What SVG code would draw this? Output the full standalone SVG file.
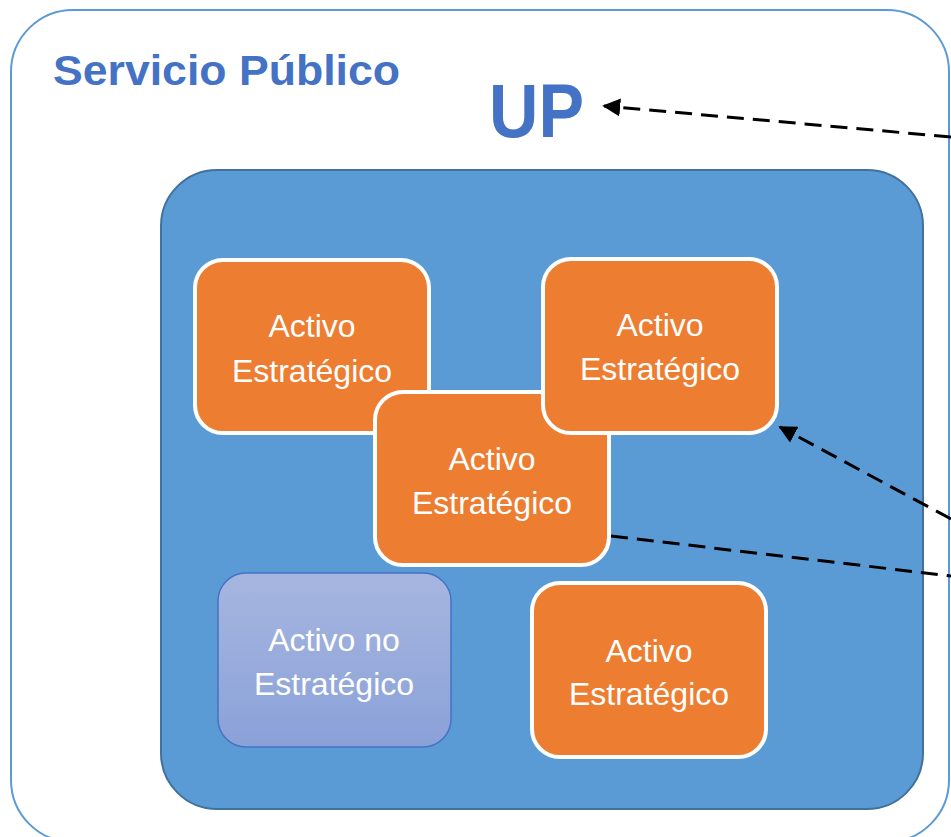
<svg xmlns="http://www.w3.org/2000/svg" width="951" height="837" viewBox="0 0 951 837">
<style>
.lbl{font-family:"Liberation Sans",Arial,sans-serif;font-size:32px;fill:#ffffff;text-anchor:middle}
.act{fill:#ED7D31;stroke:#ffffff;stroke-width:4}
.dash{fill:none;stroke:#000000;stroke-width:3;stroke-dasharray:17 9}
</style>
<defs>
<linearGradient id="gNo" x1="0" y1="0" x2="0" y2="1">
<stop offset="0" stop-color="#A7B6E0"/>
<stop offset="1" stop-color="#8AA1D8"/>
</linearGradient>
<marker id="ah" viewBox="0 0 10 10" refX="9" refY="5" markerWidth="6" markerHeight="6" orient="auto" markerUnits="strokeWidth">
<path d="M0,0 L10,5 L0,10 z" fill="#000000"/>
</marker>
</defs>
<g id="servicio-publico">
<rect x="11" y="10" width="938" height="832" rx="62" ry="62" fill="#ffffff" stroke="#5B9BD5" stroke-width="2"/>
<text x="53" y="85" font-family="'Liberation Sans',Arial,sans-serif" font-weight="bold" font-size="43" fill="#4472C4" textLength="347" lengthAdjust="spacingAndGlyphs">Servicio Público</text>
</g>
<g id="up">
<text x="489" y="137" font-family="'Liberation Sans',Arial,sans-serif" font-weight="bold" font-size="76" fill="#4472C4" textLength="95" lengthAdjust="spacingAndGlyphs">UP</text>
</g>
<g id="up-box">
<rect x="161" y="170" width="762" height="639" rx="56" ry="56" fill="#5B9BD5" stroke="#41719C" stroke-width="2"/>
</g>
<g id="activo1">
<rect class="act" x="195" y="260" width="234" height="173" rx="28" ry="28"/>
<text class="lbl" x="312" y="337">Activo</text>
<text class="lbl" x="312" y="382">Estratégico</text>
</g>
<g id="activo3">
<rect class="act" x="375" y="392" width="234" height="173" rx="28" ry="28"/>
<text class="lbl" x="492" y="470">Activo</text>
<text class="lbl" x="492" y="514">Estratégico</text>
</g>
<g id="activo2">
<rect class="act" x="543" y="259" width="234" height="174" rx="28" ry="28"/>
<text class="lbl" x="660" y="336">Activo</text>
<text class="lbl" x="660" y="380">Estratégico</text>
</g>
<g id="activo4">
<rect class="act" x="532" y="583" width="234" height="174" rx="28" ry="28"/>
<text class="lbl" x="649" y="662">Activo</text>
<text class="lbl" x="649" y="705">Estratégico</text>
</g>
<g id="activo-no">
<rect x="218" y="573" width="233" height="174" rx="28" ry="28" fill="url(#gNo)" stroke="#4472C4" stroke-width="1.5"/>
<text class="lbl" x="334" y="651">Activo no</text>
<text class="lbl" x="334" y="695">Estratégico</text>
</g>
<g id="connectors">
<line class="dash" x1="951" y1="137" x2="604" y2="106" marker-end="url(#ah)"/>
<line class="dash" x1="951" y1="519" x2="780" y2="427" marker-end="url(#ah)"/>
<line class="dash" x1="611" y1="536" x2="951" y2="576"/>
</g>
</svg>
